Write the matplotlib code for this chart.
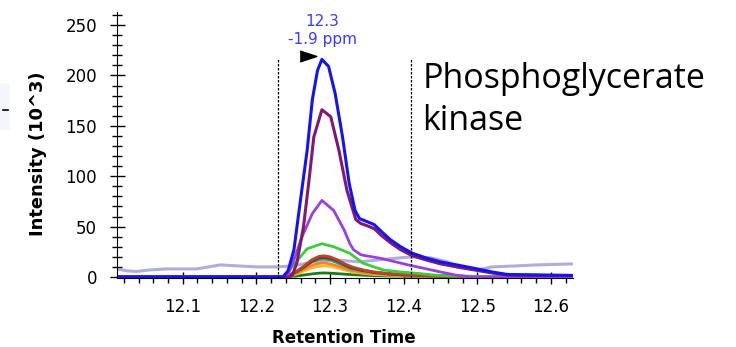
import numpy as np
import matplotlib.pyplot as plt
from matplotlib.ticker import MultipleLocator

# traces (retention time, intensity x10^3)
blue_x = [12.01, 12.236, 12.243, 12.251, 12.260, 12.269, 12.276, 12.283, 12.289, 12.298,
          12.307, 12.317, 12.326, 12.334, 12.340, 12.350, 12.360, 12.370, 12.382, 12.396,
          12.412, 12.430, 12.450, 12.472, 12.496, 12.520, 12.541, 12.587, 12.63]
blue_y = [0, 0, 6, 27, 77, 126, 176, 205, 216, 209,
          182, 139, 93, 66, 58, 55, 52, 45, 37, 30,
          23.5, 19, 15, 12, 8.6, 5, 2.5, 2, 1.5]

maroon_x = [12.01, 12.244, 12.249, 12.255, 12.264, 12.271, 12.278, 12.289, 12.301, 12.312,
            12.323, 12.335, 12.342, 12.350, 12.360, 12.370, 12.382, 12.396, 12.412, 12.430,
            12.450, 12.472, 12.496, 12.520, 12.541, 12.587, 12.63]
maroon_y = [0, 0, 2, 14, 50, 93, 139, 166, 159, 126,
            86, 57, 53, 51, 48, 41, 34, 27, 21, 17,
            13, 10, 7, 4, 2, 1.5, 1.5]

purple_x = [12.01, 12.238, 12.242, 12.251, 12.262, 12.276, 12.289, 12.305, 12.319, 12.327,
            12.332, 12.342, 12.369, 12.406, 12.450, 12.470, 12.49, 12.63]
purple_y = [0, 0, 1, 17, 40, 63, 76, 66, 47, 33,
            27, 22, 18.5, 12, 5, 2, 0, 0]

green_x = [12.01, 12.236, 12.241, 12.255, 12.269, 12.289, 12.305, 12.327, 12.345, 12.372,
           12.395, 12.418, 12.44, 12.47, 12.63]
green_y = [0, 0, 3, 16, 28, 33, 30, 23.5, 13.6, 7,
           5, 3.7, 2, 0.8, 0]

lav_x = [12.010, 12.025, 12.037, 12.055, 12.078, 12.100, 12.119, 12.135, 12.151, 12.174,
         12.201, 12.228, 12.250, 12.278, 12.305, 12.340, 12.373, 12.395, 12.412, 12.437,
         12.460, 12.473, 12.500, 12.520, 12.553, 12.580, 12.632]
lav_y = [8, 6, 5.5, 7, 8, 8, 8, 10, 12, 11,
         10, 10, 11, 15, 17, 15, 17.5, 19, 20, 19,
         15, 10, 7, 10, 11, 12, 13]

# the small traces share one time grid
small_x = [12.01, 12.236, 12.245, 12.255, 12.265, 12.275, 12.285, 12.292, 12.300, 12.310,
           12.320, 12.330, 12.345, 12.360, 12.380, 12.400, 12.430, 12.460, 12.500, 12.63]
brown_y = [0, 0, 2, 6, 11, 17, 20.5, 21, 20, 17, 13, 10, 7, 5, 3.5, 2.5, 1.5, 1, 0.5, 0]
dred_y = [0, 0, 2, 5.5, 10, 15.5, 19, 19.5, 18.5, 16, 12, 9, 6.5, 4.5, 3, 2, 1.2, 0.8, 0.4, 0]
teal_y = [0, 0, 2, 5, 10, 15, 17.5, 18, 17, 14, 11, 8, 6, 4.5, 3, 2, 1.5, 1, 0.5, 0]
orange_y = [0, 0, 1, 4, 8, 11.5, 13.5, 14, 13, 11, 8.5, 6.5, 4.5, 3.5, 2.5, 1.5, 1, 0.5, 0.3, 0]
lorange_y = [0, 0, 1, 3, 6, 9, 10.5, 11, 10.5, 9, 7, 5, 3.5, 2.5, 1.8, 1.2, 0.8, 0.5, 0.3, 0]
dgreen_y = [0, 0, 0.5, 1, 2, 3, 3.8, 4, 3.8, 3.3, 2.8, 2.3, 1.8, 1.3, 1, 0.8, 0.5, 0.3, 0.2, 0]

peak_rt = 12.2893
peak_top = 216
window = [12.229, 12.410]

fig = plt.figure(figsize=(7.36, 3.47), dpi=100)
ax = fig.add_axes([0.159, 0.198, 0.6195, 0.7674])

ax.plot(lav_x, lav_y, color='#8f8cc8', lw=2.2, alpha=0.7)
for y, c in [(dgreen_y, '#1f7a1f'), (lorange_y, '#f5b540'), (orange_y, '#f08a10'),
             (teal_y, '#2a9a9a'), (dred_y, '#8a2a20'), (brown_y, '#b04a2a')]:
    ax.plot(small_x, y, color=c, lw=2)
ax.plot(green_x, green_y, color='#3ccc3c', lw=2)
ax.plot(purple_x, purple_y, color='#9b3fe0', lw=2)
ax.plot(maroon_x, maroon_y, color='#821870', lw=2.2)
ax.plot(blue_x, blue_y, color='#1414f0', lw=2.2)

# integration window
for w in window:
    ax.plot([w, w], [-1.3, peak_top], color='black', lw=0.9, linestyle=(0, (2, 1.2)))

ax.plot(peak_rt - 0.019, 219, marker=[(-1, -0.65), (1, 0), (-1, 0.65)],
        color='black', markersize=12, linestyle='none')
ax.text(peak_rt, 254, '12.3', color='#3a3aff', fontsize=11, ha='center', va='center')
ax.text(peak_rt, 235.5, '-1.9 ppm', color='#3a3aff', fontsize=11, ha='center', va='center')

ax.set_xlim(12.0107, 12.630)
ax.set_ylim(-1.3, 263)
ax.spines['top'].set_visible(False)
ax.spines['right'].set_visible(False)
ax.set_yticks([0, 50, 100, 150, 200, 250])
ax.set_xticks([12.1, 12.2, 12.3, 12.4, 12.5, 12.6])
ax.yaxis.set_minor_locator(MultipleLocator(10))
ax.xaxis.set_minor_locator(MultipleLocator(0.02))
ax.tick_params(axis='y', which='major', direction='inout', length=10.8, width=1, labelsize=12, pad=9)
ax.tick_params(axis='y', which='minor', direction='inout', length=6.5, width=1)
ax.tick_params(axis='x', which='major', direction='inout', length=8, width=1, labelsize=12, pad=10)
ax.tick_params(axis='x', which='minor', direction='out', length=3.5, width=1)

ax.set_xlabel('Retention Time', fontsize=12, fontweight='bold')
ax.set_ylabel('Intensity (10^3)', fontsize=12.9, fontweight='bold')
ax.xaxis.set_label_coords(0.497, -0.19)
ax.yaxis.set_label_coords(-0.154, 0.469)

fig.text(0.574, 0.822, 'Phosphoglycerate\nkinase', fontsize=24.5, family='Open Sans',
         ha='left', va='top', linespacing=1.3)

# stray mark at the left edge of the screenshot
fig.patches.append(plt.Rectangle((0, 0.625), 0.0135, 0.135, transform=fig.transFigure,
                                 facecolor='#f3f7fb', edgecolor='none'))
fig.lines.append(plt.Line2D([0.004, 0.011], [0.683, 0.683], transform=fig.transFigure,
                            color='black', lw=1.2))

fig.savefig('out.png', dpi=100)
